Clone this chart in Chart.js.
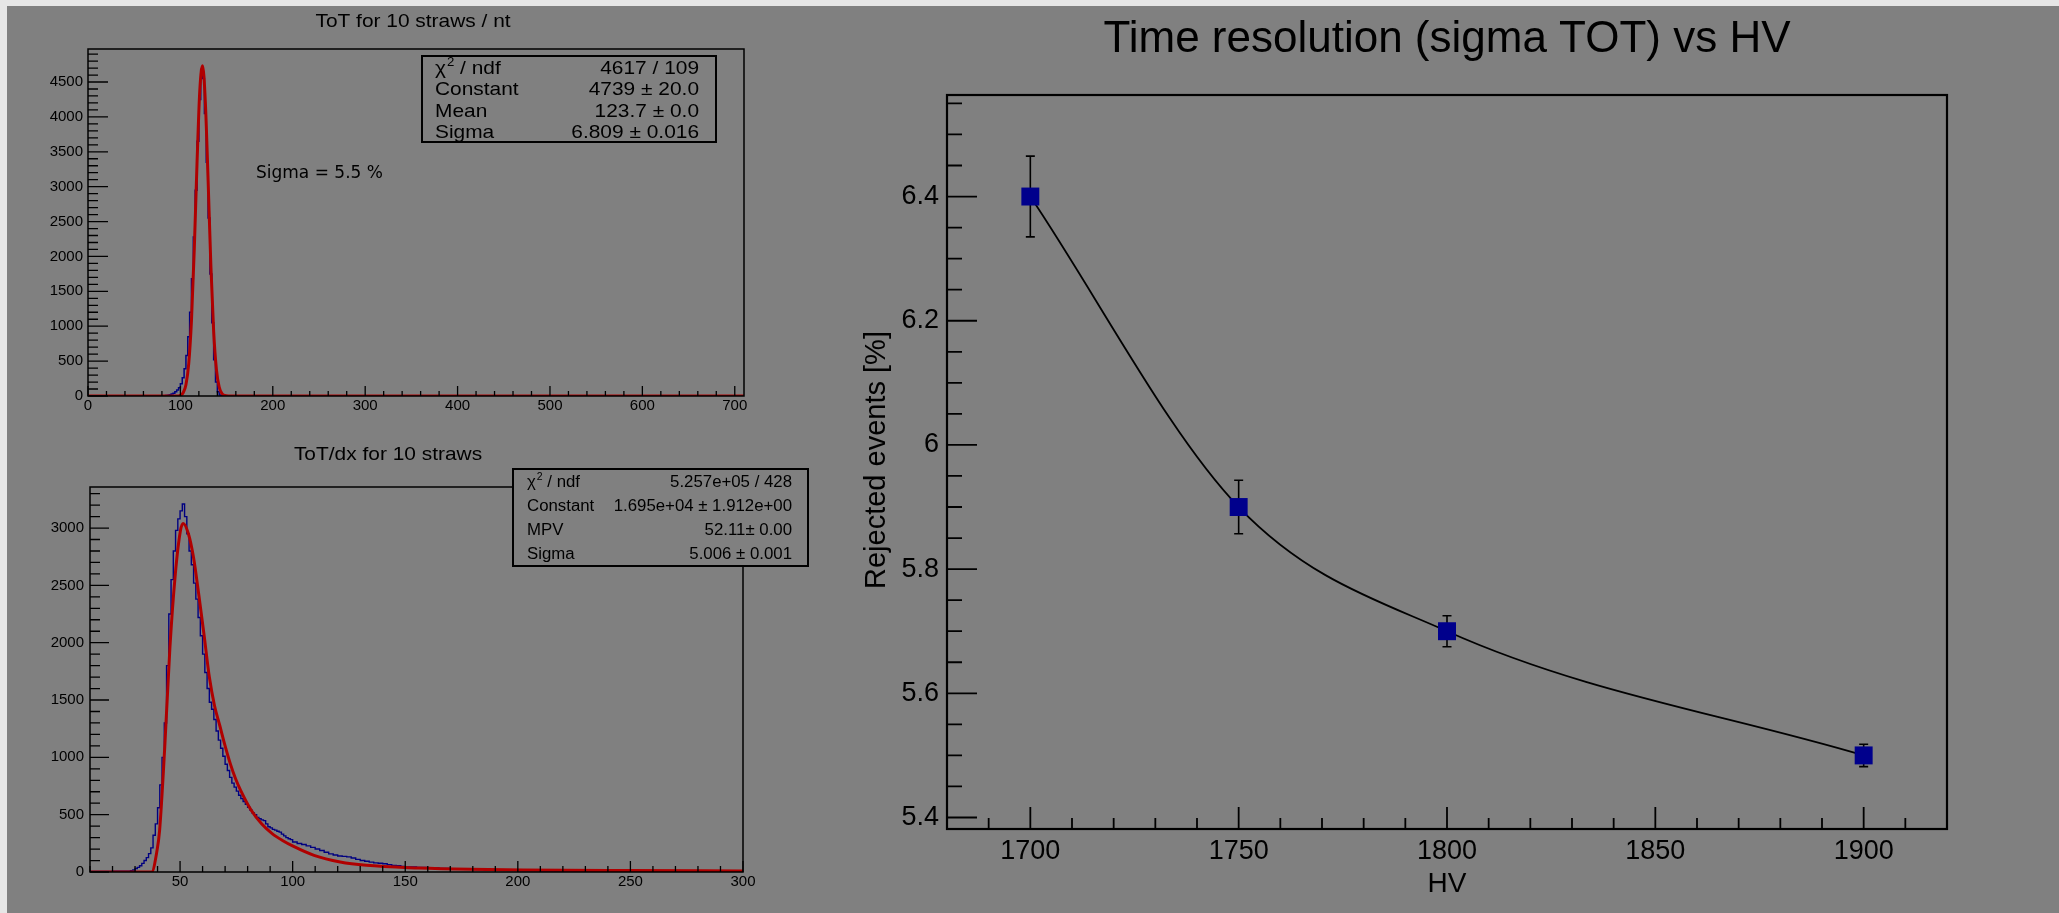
<!DOCTYPE html>
<html><head><meta charset="utf-8"><title>ToT and time resolution vs HV</title>
<script src="https://cdn.jsdelivr.net/npm/chart.js@4.4.1/dist/chart.umd.min.js"></script>
<style>
html,body{margin:0;padding:0;background:#808080;width:2059px;height:913px;overflow:hidden;position:relative}
#stripTop{position:absolute;left:0;top:0;width:2059px;height:6px;background:#e6e6e6}
#stripLeft{position:absolute;left:0;top:0;width:7px;height:913px;background:#e6e6e6}
canvas{position:absolute}
</style></head>
<body>
<div id="stripTop"></div><div id="stripLeft"></div>
<canvas id="c1" width="800" height="430" style="left:0px;top:0px"></canvas>
<canvas id="c2" width="820" height="483" style="left:0px;top:430px"></canvas>
<canvas id="c3" width="1239" height="913" style="left:820px;top:0px"></canvas>
<script>
// ================= DATA =================
// Panel 1 : ToT for 10 straws / nt
const totTitle = 'ToT for 10 straws / nt';
const totBinEdges = [0,84,86,88,90,92,94,96,98,100,102,104,106,108,110,112,114,116,118,120,122,124,126,128,130,132,134,136,138,140,142,144,146,148,710];
const totCounts = [0,5,8,12,18,28,40,60,85,120,175,260,390,580,850,1200,1680,2280,2950,3650,4250,4680,4550,4050,3350,2550,1750,1050,520,200,60,15,3,0];
const totFitX = [0,96,100,103,106,109,112,115,118,121,124,127,130,133,136,139,142,145,148,152,710];
const totFitY = [0,1,11,47,162,461,1083,2095,3338,4381,4734,4214,3089,1864,927,379,128,36,8,1,0];
const totXTicks = [0,100,200,300,400,500,600,700];
const totXTickLabels = ['0','100','200','300','400','500','600','700'];
const totYTicks = [0,500,1000,1500,2000,2500,3000,3500,4000,4500];
const totYTickLabels = ['0','500','1000','1500','2000','2500','3000','3500','4000','4500'];
const totStatsLabels = ['chi2','Constant','Mean','Sigma'];
const totStatsValues = ['4617 / 109','4739 \u00b1 20.0','123.7 \u00b1 0.0','6.809 \u00b1 0.016'];
const totNote = 'Sigma = 5.5 %';

// Panel 2 : ToT/dx for 10 straws
const dxTitle = 'ToT/dx for 10 straws';
const dxBinEdges = [10,20,24,
  28,29,30,31,32,33,34,35,36,37,38,39,40,41,42,43,44,45,46,47,48,49,50,51,52,53,54,55,56,57,58,59,60,61,62,63,64,
  65,66,67,68,69,70,71,72,73,74,75,76,77,78,79,80,81,82,83,84,85,86,87,88,89,90,91,92,93,94,95,96,97,98,99,100,
  102,104,106,108,110,112,114,116,118,120,122,124,126,128,130,132,134,136,138,140,142,144,146,148,150,
  155,160,165,170,175,180,185,190,195,200,
  210,220,230,240,250,260,270,280,290,300];
const dxCounts = [2,4,6,
  8,12,18,30,40,55,75,100,125,160,
  210,320,420,560,760,1000,1300,1800,2250,2550,
  2800,2980,3080,3150,3210,3100,2950,2800,2680,2520,
  2380,2220,2060,1900,1740,1600,1480,1420,1330,1230,
  1150,1080,1010,940,885,825,775,740,705,670,
  640,615,590,565,540,515,500,475,465,455,
  448,420,395,385,372,365,355,348,330,315,
  300,290,
  282,262,248,240,228,215,200,188,172,158,148,140,136,132,122,110,100,94,86,80,76,72,64,58,54,
  48,44,40,35,32,27,24,21,18,16,
  14,12,9,8,6,5,4,4,3,2];
const dxFitX = [10,37.4,39.7,40.9,43.2,45.5,47.9,50.2,51.4,53.7,56.0,58.3,60.7,63.0,65.3,67.6,70.0,72.3,74.6,76.9,81.6,86.2,90.9,95.5,100.2,109.5,121.1,132.7,156.0,179.2,202.4,248.9,300];
const dxFitY = [0,0,180,360,1090,1960,2600,2980,3040,2950,2740,2420,2060,1700,1450,1280,1100,945,815,712,538,420,335,275,225,145,87,58,35,23,17,12,9];
const dxXTicks = [50,100,150,200,250,300];
const dxXTickLabels = ['50','100','150','200','250','300'];
const dxYTicks = [0,500,1000,1500,2000,2500,3000];
const dxYTickLabels = ['0','500','1000','1500','2000','2500','3000'];
const dxStatsLabels = ['chi2','Constant','MPV','Sigma'];
const dxStatsValues = ['5.257e+05 / 428','1.695e+04 \u00b1 1.912e+00','52.11\u00b1 0.00','5.006 \u00b1 0.001'];

// Panel 3 : Time resolution (sigma TOT) vs HV
const hvTitle = 'Time resolution (sigma TOT) vs HV';
const hvXTitle = 'HV';
const hvYTitle = 'Rejected events [%]';
const hv = [1700,1750,1800,1900];
const rejected = [6.4,5.9,5.7,5.5];
const rejectedErr = [0.065,0.043,0.025,0.018];
const hvXTicks = [1700,1750,1800,1850,1900];
const hvXTickLabels = ['1700','1750','1800','1850','1900'];
const hvYTicks = [5.4,5.6,5.8,6.0,6.2,6.4];
const hvYTickLabels = ['5.4','5.6','5.8','6','6.2','6.4'];

// ================= STYLE / HELPERS =================
const FONT = '"Liberation Sans", Arial, Helvetica, sans-serif';
const BG = '#808080', BLUE = '#000080', RED = '#b00000', NAVY = '#00008c';

function axis(min, max, vals, labels, size, pad, thick, isY) {
  return {
    type: 'linear', min: min, max: max, position: isY ? 'left' : 'bottom',
    grid: {display: false, drawTicks: false}, border: {display: false},
    ticks: {autoSkip: false, maxRotation: 0, minRotation: 0, padding: pad, color: '#000',
      font: {family: FONT, size: size}, callback: (v, i) => labels[i]},
    afterBuildTicks: s => { s.ticks = vals.map(v => ({value: v})); },
    afterFit: s => {
      if (isY) { s.width = thick; s.paddingTop = 0; s.paddingBottom = 0; }
      else { s.height = thick; s.paddingLeft = 0; s.paddingRight = 0; }
    }
  };
}
function text(ctx, s, x, y, size, o) {
  o = o || {};
  ctx.save();
  ctx.font = size + 'px ' + (o.family || FONT);
  ctx.fillStyle = '#000'; ctx.textAlign = o.align || 'left'; ctx.textBaseline = 'alphabetic';
  ctx.translate(x, y); if (o.rot) ctx.rotate(o.rot); if (o.sx) ctx.scale(o.sx, 1);
  ctx.fillText(s, 0, 0);
  ctx.restore();
}
function measure(ctx, s, size, family) { ctx.save(); ctx.font = size + 'px ' + (family || FONT); const w = ctx.measureText(s).width; ctx.restore(); return w; }
function frame(chart, lw) {
  const ctx = chart.ctx, a = chart.chartArea;
  ctx.save(); ctx.strokeStyle = '#000'; ctx.lineWidth = lw;
  ctx.strokeRect(a.left, a.top, a.right - a.left, a.bottom - a.top); ctx.restore();
}
function tickMarks(chart, id, major, minor, lenMaj, lenMin, lw) {
  const ctx = chart.ctx, a = chart.chartArea, s = chart.scales[id];
  const k0 = Math.ceil(s.min / minor - 1e-6), k1 = Math.floor(s.max / minor + 1e-6);
  ctx.save(); ctx.strokeStyle = '#000'; ctx.lineWidth = lw; ctx.beginPath();
  for (let k = k0; k <= k1; k++) {
    const v = k * minor, r = v / major;
    const L = Math.abs(r - Math.round(r)) < 1e-6 ? lenMaj : lenMin;
    const p = s.getPixelForValue(v);
    if (id === 'x') { ctx.moveTo(p, a.bottom); ctx.lineTo(p, a.bottom - L); }
    else { ctx.moveTo(a.left, p); ctx.lineTo(a.left + L, p); }
  }
  ctx.stroke(); ctx.restore();
}
function statsBox(ctx, b, labels, values, size, lx, vx, bases, sx) {
  ctx.save(); ctx.fillStyle = BG; ctx.fillRect(b[0], b[1], b[2] - b[0], b[3] - b[1]);
  ctx.strokeStyle = '#000'; ctx.lineWidth = 2; ctx.strokeRect(b[0], b[1], b[2] - b[0], b[3] - b[1]); ctx.restore();
  labels.forEach((l, i) => {
    if (l === 'chi2') {
      const w1 = measure(ctx, '\u03c7', size) * sx;
      text(ctx, '\u03c7', lx, bases[i], size, {sx: sx});
      const s2 = Math.round(size * 0.62);
      text(ctx, '2', lx + w1 + 1, bases[i] - size * 0.42, s2, {sx: sx});
      const w2 = measure(ctx, '2', s2) * sx;
      text(ctx, ' / ndf', lx + w1 + w2 + 1, bases[i], size, {sx: sx});
    } else text(ctx, l, lx, bases[i], size, {sx: sx});
    text(ctx, values[i], vx, bases[i], size, {align: 'right', sx: sx});
  });
}
function stepPoints(edges, counts) { return edges.map((e, i) => ({x: e, y: counts[Math.min(i, counts.length - 1)]})); }
function xyPoints(xs, ys) { return xs.map((x, i) => ({x: x, y: ys[i]})); }
const base = {responsive: false, animation: false, events: [], plugins: {legend: {display: false}, tooltip: {enabled: false}, title: {display: false}}};

// ================= PANEL 1 =================
new Chart(document.getElementById('c1'), {
  type: 'line',
  data: {datasets: [
    {data: xyPoints(totFitX, totFitY), borderColor: RED, borderWidth: 3, pointRadius: 0, cubicInterpolationMode: 'monotone', fill: false},
    {data: stepPoints(totBinEdges, totCounts), borderColor: BLUE, borderWidth: 1.5, pointRadius: 0, stepped: 'after', fill: false}
  ]},
  options: Object.assign({}, base, {
    layout: {padding: {left: 28, top: 49, right: 56, bottom: 4}},
    scales: {x: axis(0, 710, totXTicks, totXTickLabels, 15, 1, 30, false),
             y: axis(0, 4973, totYTicks, totYTickLabels, 15, 5, 60, true)}
  }),
  plugins: [{id: 'p1', afterDatasetsDraw(chart) {
    const ctx = chart.ctx;
    frame(chart, 1.5);
    tickMarks(chart, 'x', 100, 20, 10, 5, 1.3);
    tickMarks(chart, 'y', 500, 100, 20, 10, 1.3);
    text(ctx, totTitle, 413, 27, 19, {align: 'center', sx: 1.1});
    text(ctx, totNote, 256, 178, 17, {family: '"DejaVu Sans", sans-serif'});
    statsBox(ctx, [422, 56, 716, 142], totStatsLabels, totStatsValues, 19, 435, 699, [73.5, 95, 117, 138], 1.1);
  }}]
});

// ================= PANEL 2 =================
new Chart(document.getElementById('c2'), {
  type: 'line',
  data: {datasets: [
    {data: xyPoints(dxFitX, dxFitY), borderColor: RED, borderWidth: 3, pointRadius: 0, cubicInterpolationMode: 'monotone', fill: false},
    {data: stepPoints(dxBinEdges, dxCounts), borderColor: BLUE, borderWidth: 1.4, pointRadius: 0, stepped: 'after', fill: false}
  ]},
  options: Object.assign({}, base, {
    layout: {padding: {left: 30, top: 57, right: 77, bottom: 11}},
    scales: {x: axis(10, 300, dxXTicks, dxXTickLabels, 15, 1, 30, false),
             y: axis(0, 3358, dxYTicks, dxYTickLabels, 15, 6, 60, true)}
  }),
  plugins: [{id: 'p2', afterDatasetsDraw(chart) {
    const ctx = chart.ctx;
    frame(chart, 1.5);
    tickMarks(chart, 'x', 50, 10, 11, 6, 1.3);
    tickMarks(chart, 'y', 500, 100, 19, 10, 1.3);
    ctx.save(); ctx.translate(0, -430);
    text(ctx, dxTitle, 388, 460, 19, {align: 'center', sx: 1.1});
    statsBox(ctx, [513, 469, 808, 566], dxStatsLabels, dxStatsValues, 16, 527, 792, [487, 511, 535, 559], 1.05);
    ctx.restore();
  }}]
});

// ================= PANEL 3 =================
new Chart(document.getElementById('c3'), {
  type: 'line',
  data: {datasets: [
    {data: xyPoints(hv, rejected), borderColor: '#000', borderWidth: 1.8, cubicInterpolationMode: 'monotone', fill: false,
     pointStyle: 'rect', pointRadius: 12.7, pointBackgroundColor: NAVY, pointBorderColor: NAVY, pointBorderWidth: 0}
  ]},
  options: Object.assign({}, base, {
    layout: {padding: {left: 47, top: 95, right: 112, bottom: 34}},
    scales: {x: axis(1680, 1920, hvXTicks, hvXTickLabels, 27, 6, 50, false),
             y: axis(5.3815, 6.5635, hvYTicks, hvYTickLabels, 27, 8, 80, true)}
  }),
  plugins: [{id: 'p3',
    beforeDatasetsDraw(chart) {
      const ctx = chart.ctx, sx = chart.scales.x, sy = chart.scales.y;
      ctx.save(); ctx.strokeStyle = '#000'; ctx.lineWidth = 1.6; ctx.beginPath();
      hv.forEach((h, i) => {
        const px = sx.getPixelForValue(h);
        const y1 = sy.getPixelForValue(rejected[i] + rejectedErr[i]);
        const y2 = sy.getPixelForValue(rejected[i] - rejectedErr[i]);
        ctx.moveTo(px, y1); ctx.lineTo(px, y2);
        ctx.moveTo(px - 4.5, y1); ctx.lineTo(px + 4.5, y1);
        ctx.moveTo(px - 4.5, y2); ctx.lineTo(px + 4.5, y2);
      });
      ctx.stroke(); ctx.restore();
    },
    afterDatasetsDraw(chart) {
      const ctx = chart.ctx;
      frame(chart, 2.2);
      tickMarks(chart, 'x', 50, 10, 22, 11, 1.8);
      tickMarks(chart, 'y', 0.2, 0.05, 30, 15, 1.8);
      ctx.save(); ctx.translate(-820, 0);
      text(ctx, hvTitle, 1447, 52, 44, {align: 'center'});
      text(ctx, hvXTitle, 1447, 892, 28, {align: 'center'});
      text(ctx, hvYTitle, 885, 460, 29, {align: 'center', rot: -Math.PI / 2});
      ctx.restore();
    }
  }]
});
</script>
</body></html>
